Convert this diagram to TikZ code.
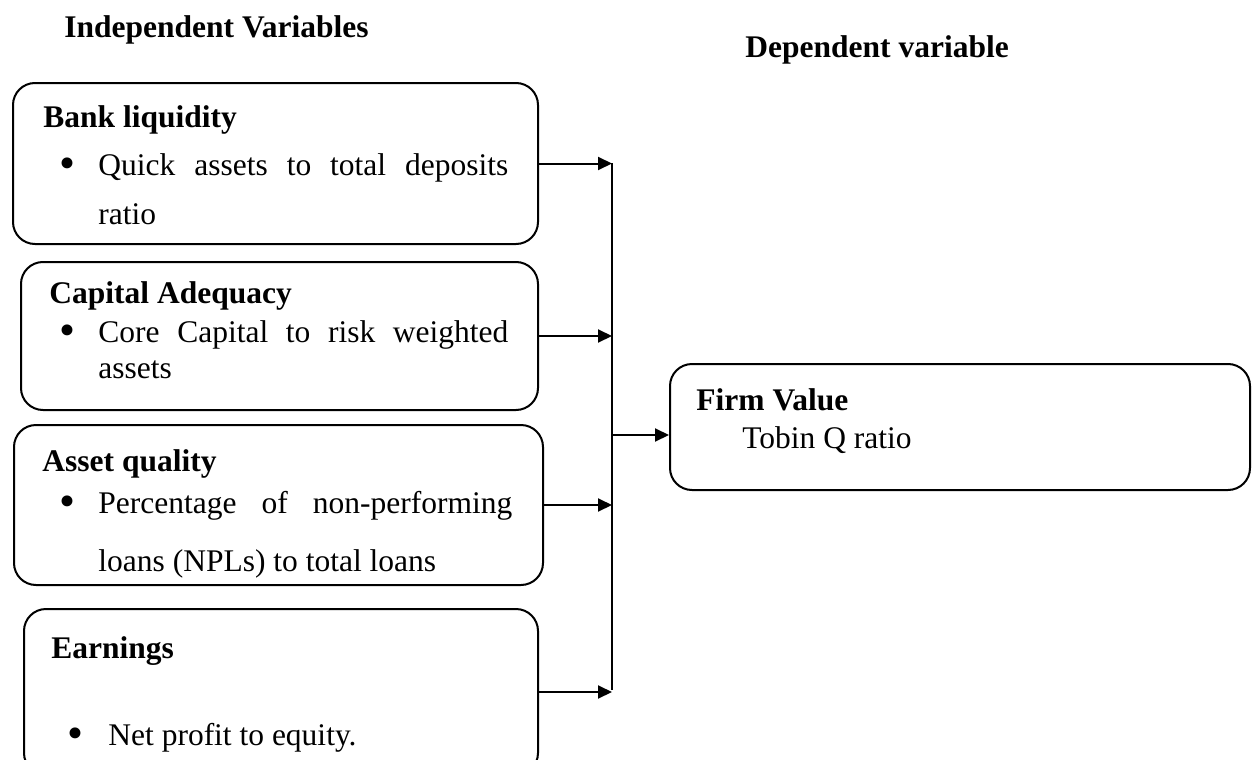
\documentclass[tikz,border=0pt]{standalone}
\usepackage{fontspec}
\setmainfont{Liberation Serif}
\usetikzlibrary{arrows.meta}
\newcommand{\bigbul}{\raisebox{-1.6pt}{\scalebox{1.45}{\textbullet}}}
\begin{document}
\begin{tikzpicture}[x=0.5pt,y=-0.5pt,
  box/.style={draw, line width=1pt, rounded corners=11pt, inner sep=0pt},
  txt/.style={anchor=base west, inner sep=0pt, font=\fontsize{15.75pt}{18pt}\selectfont},
  hd/.style={anchor=base west, inner sep=0pt, font=\fontsize{15.75pt}{18pt}\selectfont\bfseries},
  bul/.style={anchor=base, inner sep=0pt, font=\fontsize{15.75pt}{18pt}\selectfont},
  arr/.style={line width=1pt, -{Triangle[length=7pt,width=6.5pt]}},
  bar/.style={line width=0.8pt}]
\useasboundingbox (0,0) rectangle (1254,760);
\clip (0,0) rectangle (1254,760);

% titles
\node[hd] (tind) at (64,38) {Independent Variables};
\node[hd] (tdep) at (745,57) {Dependent variable};

% boxes
\node[box, minimum width=262.5pt, minimum height=80.5pt] (b1) at (275.5,163.5) {};
\node[box, minimum width=258.5pt, minimum height=74pt] (b2) at (279.5,336) {};
\node[box, minimum width=264.5pt, minimum height=80pt] (b3) at (278.5,505) {};
\node[box, minimum width=257pt, minimum height=83pt] (b4) at (281,692) {};
\node[box, minimum width=290pt, minimum height=63pt] (fv) at (960,427) {};

% box 1
\node[hd] (h1) at (43,127) {Bank liquidity};
\node[bul] (u1) at (67,175) {\bigbul};
\node[txt] (l1a) at (98,175) {\makebox[205pt][s]{Quick assets to total deposits}};
\node[txt] (l1b) at (98,224) {ratio};

% box 2
\node[hd] (h2) at (49,303) {Capital Adequacy};
\node[bul] (u2) at (67,342) {\bigbul};
\node[txt] (l2a) at (98,342) {\makebox[205pt][s]{Core Capital to risk weighted}};
\node[txt] (l2b) at (98,378) {assets};

% box 3
\node[hd] (h3) at (42,471) {Asset quality};
\node[bul] (u3) at (67,513) {\bigbul};
\node[txt] (l3a) at (98,513) {\makebox[207pt][s]{Percentage of non-performing}};
\node[txt] (l3b) at (98,571) {loans (NPLs) to total loans};

% box 4
\node[hd] (h4) at (51,658) {Earnings};
\node[bul] (u4) at (75,745) {\bigbul};
\node[txt] (l4a) at (108,745) {Net profit to equity.};

% firm value
\node[hd] (h5) at (696,410) {Firm Value};
\node[txt] (l5) at (742,448) {Tobin Q ratio};

% connectors
\coordinate (top) at (612,163);
\coordinate (bot) at (612,690);
\coordinate (fa) at (612,435);
\draw[bar] (top) -- (bot);
\draw[arr] (b1.east) -- (b1.east -| top);
\draw[arr] (b2.east) -- (b2.east -| top);
\draw[arr] (b3.east) -- (b3.east -| top);
\draw[arr] (b4.east) -- (b4.east -| top);
\draw[arr] (fa) -- (fa -| fv.west);
\end{tikzpicture}
\end{document}
